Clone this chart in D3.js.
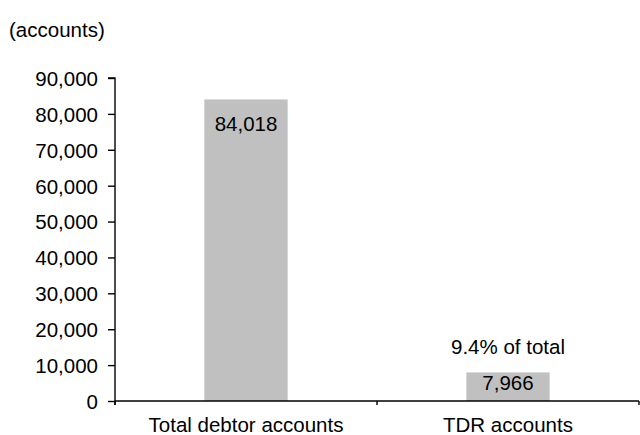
<!DOCTYPE html>
<html>
<head>
<meta charset="utf-8">
<script src="https://cdn.jsdelivr.net/npm/d3@7"></script>
<style>
  body { margin: 0; background: #fff; }
  text { font-family: "Liberation Sans", Arial, sans-serif; fill: #000; }
</style>
</head>
<body>
<svg id="chart" width="640" height="435"></svg>
<script>
const categories = ["Total debtor accounts", "TDR accounts"];
const values = [84018, 7966];
const valueLabels = ["84,018", "7,966"];
const noteLabels = ["", "9.4% of total"];
const yTicks = [0, 10000, 20000, 30000, 40000, 50000, 60000, 70000, 80000, 90000];
const unitLabel = "(accounts)";

const svg = d3.select("#chart");
const plotLeft = 115, plotRight = 639, plotTop = 78, plotBottom = 401;
const fontSize = "20.5px";

const x = d3.scaleBand().domain(categories).range([plotLeft, plotRight]).paddingInner(0.682).paddingOuter(0.341);
const y = d3.scaleLinear().domain([0, 90000]).range([plotBottom, plotTop]);

// bars
svg.selectAll("rect.bar").data(values).join("rect")
  .attr("class", "bar")
  .attr("x", (d, i) => x(categories[i]))
  .attr("width", x.bandwidth())
  .attr("y", d => y(d))
  .attr("height", d => y(0) - y(d))
  .attr("fill", "#c0c0c0");

// y axis
const yAxis = d3.axisLeft(y).tickValues(yTicks).tickFormat(d3.format(",")).tickSize(7).tickPadding(10);
const gy = svg.append("g").attr("transform", `translate(${plotLeft},0)`).call(yAxis);
gy.select(".domain").attr("stroke", "#000").attr("stroke-width", 1.4).attr("d", `M-7,${plotTop}H0V${plotBottom + 4}`);
gy.selectAll(".tick line").attr("stroke", "#000").attr("stroke-width", 1.4);
gy.selectAll(".tick text").style("font-size", fontSize).attr("dy", "0.36em");

// x axis
const gx = svg.append("g").attr("transform", `translate(0,${plotBottom})`);
gx.append("line").attr("x1", plotLeft).attr("x2", plotRight).attr("y1", 0).attr("y2", 0)
  .attr("stroke", "#000").attr("stroke-width", 1.4);
const bounds = [plotLeft, ...categories.map(c => x(c) + x.bandwidth() / 2 + x.step() / 2)];
gx.selectAll("line.tk").data(bounds).join("line")
  .attr("class", "tk")
  .attr("x1", d => d).attr("x2", d => d).attr("y1", 0).attr("y2", 4)
  .attr("stroke", "#000").attr("stroke-width", 1.4);
gx.selectAll("text").data(categories).join("text")
  .attr("x", d => x(d) + x.bandwidth() / 2)
  .attr("y", 31)
  .attr("text-anchor", "middle")
  .style("font-size", fontSize)
  .text(d => d);

// value labels inside bars (short bars get the label pulled up closer to the top)
svg.selectAll("text.val").data(values).join("text")
  .attr("class", "val")
  .attr("x", (d, i) => x(categories[i]) + x.bandwidth() / 2)
  .attr("y", d => y(d) + ((y(0) - y(d)) > 40 ? 32 : 18))
  .attr("text-anchor", "middle")
  .style("font-size", fontSize)
  .text((d, i) => valueLabels[i]);

// share note above small bar
svg.selectAll("text.note").data(values).join("text")
  .attr("class", "note")
  .attr("x", (d, i) => x(categories[i]) + x.bandwidth() / 2)
  .attr("y", d => y(d) - 18)
  .attr("text-anchor", "middle")
  .style("font-size", fontSize)
  .text((d, i) => noteLabels[i]);

svg.append("text").attr("x", 9).attr("y", 37).style("font-size", fontSize).text(unitLabel);
</script>
</body>
</html>
